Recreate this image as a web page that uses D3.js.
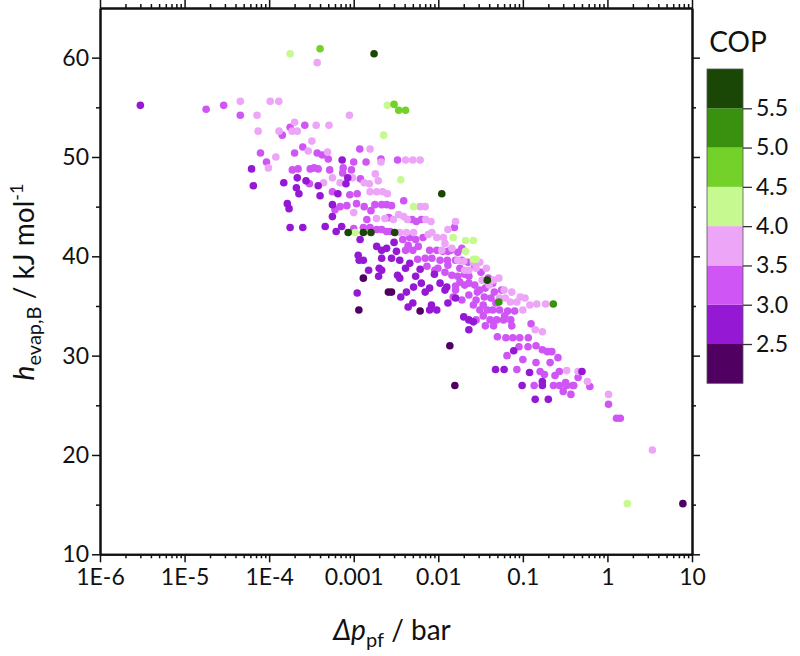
<!DOCTYPE html>
<html>
<head>
<meta charset="utf-8">
<script src="https://cdn.jsdelivr.net/npm/d3@7"></script>
<style>
body { margin: 0; background: #fff; }
svg text { font-family: Lato, "Open Sans", sans-serif; fill: #111; }
.axis path, .axis line { stroke: #111; }
</style>
</head>
<body>
<div id="chart"></div>
<script>
// COP bands and their colours (legend)
const copEdges = [2.0, 2.5, 3.0, 3.5, 4.0, 4.5, 5.0, 5.5, 6.0];
const copColors = ["#4f0060", "#9518d4", "#cf55f5", "#eda5f7", "#c6f98f", "#73d12a", "#3a9110", "#1b4706"];
const copTicks = [2.5, 3.0, 3.5, 4.0, 4.5, 5.0, 5.5];

const xTicks = [1e-6, 1e-5, 1e-4, 1e-3, 0.01, 0.1, 1, 10];
const xTickLabels = ["1E-6", "1E-5", "1E-4", "0.001", "0.01", "0.1", "1", "10"];
const yTicks = [10, 20, 30, 40, 50, 60];
const yMinorTicks = [15, 25, 35, 45, 55];

// points: [delta p_pf (bar), h_evap,B (kJ/mol)] grouped by COP band
const cop23 = [
  [1.15e-3, 34.6], [1.3e-3, 37.8], [2.57e-3, 36.4], [2.8e-3, 36.4], [6.1e-3, 34.5],
  [1.37e-2, 31.0], [1.57e-2, 27.0], [7.8, 15.1]
];
const cop28 = [
  [3.0e-6, 55.2], [6.2e-5, 48.8], [6.5e-5, 47.1], [1.49e-4, 47.4], [2.15e-4, 47.9],
  [2.73e-4, 47.6], [2.1e-4, 46.9], [2.25e-4, 46.3], [7.3e-4, 49.7], [8.5e-4, 47.9],
  [8.1e-4, 47.3], [3.8e-4, 47.1], [4.0e-4, 46.1], [6.5e-4, 46.3], [1.64e-4, 45.3],
  [1.72e-4, 44.8], [5.6e-4, 45.2], [5.6e-4, 44.0], [1.77e-4, 42.9], [2.5e-4, 42.9],
  [4.6e-4, 43.0], [6.2e-4, 42.5], [7.2e-4, 43.0], [1.19e-3, 41.7], [1.13e-3, 40.1],
  [1.3e-3, 39.6], [1.16e-3, 39.6], [1.1e-3, 36.3], [1.87e-3, 41.0], [2.14e-3, 40.6],
  [2.45e-3, 40.8], [3.2e-3, 40.5], [2.14e-3, 39.8], [2.8e-3, 39.8], [3.5e-3, 39.6],
  [2.0e-3, 38.8], [2.14e-3, 38.6], [1.97e-3, 38.0], [3.5e-3, 37.8], [3.6e-3, 35.9],
  [4.2e-3, 36.4], [5.1e-3, 36.9], [6.3e-3, 37.3], [7.9e-3, 36.8], [7.9e-3, 34.6],
  [9.6e-3, 34.6], [8.3e-3, 35.1], [1.05e-2, 37.3], [1.26e-2, 36.9], [4.6e-3, 39.3],
  [4.1e-3, 38.8], [5.4e-3, 38.0], [7.0e-3, 36.4], [6.1e-3, 38.7], [3.3e-3, 38.1],
  [1.3e-2, 35.3], [1.6e-2, 35.8], [2.0e-2, 33.9], [2.3e-2, 33.6], [7.8e-2, 30.5],
  [4.75e-2, 28.6], [6.0e-2, 28.6], [0.12, 28.3], [9.8e-2, 27.0], [0.14, 25.6],
  [0.2, 25.6], [0.17, 27.0], [0.17, 27.4], [0.5, 28.4], [2.3e-2, 32.6],
  [1.2e-2, 36.6], [4.4e-3, 34.9], [5.0e-3, 35.3], [2.6e-2, 33.4], [3.0e-3, 41.4],
  [1.5e-3, 38.6], [9.0e-3, 38.2]
];
const cop32 = [
  [1.8e-5, 54.8], [2.9e-5, 55.2], [4.56e-5, 54.2], [1.43e-4, 52.2], [1.77e-4, 53.0],
  [2.64e-4, 53.2], [7.9e-5, 50.4], [2.0e-4, 50.4], [3.7e-4, 50.4], [4.25e-4, 50.2],
  [5.0e-4, 49.8], [1.18e-3, 50.8], [2.1e-3, 49.8], [9.3e-5, 49.5], [1.88e-4, 48.7],
  [2.2e-4, 48.8], [3.06e-4, 48.8], [3.4e-4, 48.9], [3.8e-4, 48.8], [5.2e-4, 48.7],
  [7.5e-4, 48.9], [9.4e-4, 48.7], [1.0e-3, 49.5], [1.4e-3, 49.5], [7.4e-4, 48.4],
  [5.6e-4, 46.5], [9.0e-4, 46.2], [1.1e-3, 46.3], [3.3e-3, 49.7], [6.0e-4, 44.7],
  [6.9e-4, 45.0], [8.3e-4, 45.1], [1.08e-3, 45.3], [1.33e-3, 45.0], [1.78e-3, 45.2],
  [2.14e-3, 45.2], [2.45e-3, 45.2], [2.8e-3, 45.1], [1.43e-3, 43.7], [1.0e-3, 42.8],
  [1.3e-3, 42.9], [1.56e-3, 42.9], [1.87e-3, 42.7], [2.14e-3, 42.7], [2.45e-3, 42.5],
  [2.7e-3, 42.5], [4.9e-3, 43.7], [5.5e-3, 43.5], [6.3e-3, 43.7], [1.55e-2, 42.9],
  [3.8e-3, 41.7], [4.6e-3, 41.9], [5.4e-3, 41.7], [6.6e-3, 41.9], [4.1e-3, 40.6],
  [5.0e-3, 40.6], [5.8e-3, 41.0], [7.9e-3, 40.6], [9.6e-3, 40.6], [1.13e-2, 40.5],
  [1.3e-2, 40.5], [5.7e-3, 39.7], [7.0e-3, 39.8], [8.4e-3, 39.8], [1.05e-2, 39.6],
  [1.28e-2, 39.6], [1.6e-2, 39.6], [1.9e-2, 39.6], [2.25e-2, 39.4], [1.2e-2, 38.4],
  [1.45e-2, 38.1], [1.7e-2, 38.0], [2.05e-2, 38.2], [2.3e-2, 38.0], [1.6e-2, 37.0],
  [2.05e-2, 37.1], [2.7e-2, 37.1], [3.1e-2, 36.6], [3.6e-2, 36.8], [1.5e-2, 35.9],
  [2.8e-2, 35.6], [4.2e-2, 35.8], [2.6e-2, 35.1], [3.1e-2, 34.6], [3.4e-2, 35.1],
  [3.8e-2, 34.6], [4.4e-2, 34.6], [4.8e-2, 35.3], [6.6e-2, 34.5], [8.0e-2, 34.5],
  [2.8e-2, 33.6], [4.1e-2, 33.6], [4.9e-2, 33.6], [5.9e-2, 33.6], [7.2e-2, 33.6],
  [5.0e-2, 31.9], [6.3e-2, 31.8], [7.6e-2, 31.8], [9.2e-2, 31.8], [0.116, 31.8],
  [9.0e-2, 30.9], [0.115, 30.9], [0.143, 31.0], [0.17, 30.6], [0.195, 30.4],
  [0.22, 30.4], [0.143, 29.3], [0.21, 29.3], [8.5e-2, 28.6], [0.16, 28.4],
  [0.18, 28.1], [0.24, 28.0], [0.27, 28.4], [0.32, 27.3], [0.39, 27.0],
  [0.136, 27.0], [0.23, 27.0], [0.27, 27.0], [0.33, 27.0], [0.4, 27.0],
  [0.37, 26.1], [0.62, 26.9], [1.03, 25.1], [1.28, 23.7], [1.42, 23.7],
  [7.35e-3, 39.0], [9.1e-3, 38.6], [1.3e-2, 39.1], [1.8e-2, 38.8], [2.7e-2, 39.0],
  [3.2e-2, 38.4], [3.9e-2, 37.8], [4.4e-2, 37.3], [1.8e-2, 37.4], [2.3e-2, 37.3],
  [2.9e-2, 36.4], [3.5e-2, 35.9], [2.3e-2, 36.1], [1.9e-2, 35.6], [4.6e-2, 36.4],
  [5.6e-2, 36.6], [5.3e-2, 34.6], [6.1e-2, 34.0], [3.4e-2, 34.0], [4.5e-2, 33.0],
  [3.6e-2, 33.0], [7.4e-2, 33.0], [1.4e-2, 40.6], [1.7e-2, 40.4], [1.9e-2, 40.8],
  [9.9e-3, 38.8], [1.6e-2, 36.6], [4.4e-3, 41.1], [2.5e-4, 51.0], [3.0e-4, 47.3],
  [1.2e-3, 47.8], [1.6e-3, 44.6], [3.9e-3, 45.6], [2.6e-3, 43.9], [6.5e-2, 30.0],
  [0.1, 29.6], [0.26, 29.8], [0.3, 26.4], [0.45, 27.8], [0.125, 33.2]
];
const cop37 = [
  [4.56e-5, 55.6], [7.2e-5, 54.2], [1.03e-4, 55.6], [1.3e-4, 55.6], [7.4e-5, 52.6],
  [1.31e-4, 52.6], [2.0e-4, 53.5], [1.87e-4, 52.6], [2.15e-4, 52.6], [3.6e-4, 53.2],
  [5.1e-4, 53.2], [8.9e-4, 54.2], [3.2e-4, 51.6], [3.7e-4, 59.5], [4.9e-4, 50.5],
  [1.56e-3, 50.8], [2.1e-3, 49.5], [9.8e-5, 48.9], [5.6e-4, 47.9], [9.7e-4, 47.9],
  [6.9e-4, 47.4], [4.4e-4, 47.4], [1.33e-3, 47.4], [1.53e-3, 47.3], [1.8e-3, 48.3],
  [1.95e-3, 47.6], [1.56e-3, 46.5], [1.87e-3, 46.5], [2.2e-3, 46.5], [2.5e-3, 46.3],
  [4.1e-3, 49.7], [5.0e-3, 49.7], [6.1e-3, 49.7], [6.1e-3, 45.0], [7.0e-3, 45.0],
  [1.86e-3, 43.8], [2.34e-3, 43.8], [2.94e-3, 43.7], [3.4e-3, 44.2], [3.9e-3, 44.0],
  [4.3e-3, 43.7], [7.1e-3, 43.7], [8.2e-3, 43.5], [3.5e-3, 42.4], [4.2e-3, 42.4],
  [5.1e-3, 42.4], [7.6e-3, 42.2], [9.6e-3, 41.9], [1.15e-2, 41.9], [1.1e-2, 40.6],
  [1.7e-2, 39.6], [2.0e-2, 39.5], [2.6e-2, 39.4], [2.05e-2, 38.6], [2.3e-2, 38.6],
  [2.8e-2, 38.8], [3.3e-2, 37.6], [4.0e-2, 37.1], [5.2e-2, 37.8], [5.3e-2, 35.8],
  [6.2e-2, 35.8], [7.1e-2, 35.4], [8.5e-2, 35.4], [0.146, 35.2], [0.186, 35.2],
  [0.14, 32.6], [0.17, 32.4], [0.33, 28.5], [0.45, 28.4], [0.58, 27.4],
  [1.03, 26.1], [3.4, 20.5], [8.4e-3, 42.4], [1.2e-2, 41.3], [1.45e-2, 40.8],
  [3.1e-2, 39.4], [3.7e-2, 38.8], [4.5e-2, 37.6], [6.0e-2, 36.6], [7.4e-2, 36.4],
  [9.3e-2, 35.9], [0.106, 35.8], [0.1, 34.6], [0.121, 35.1], [1.6e-2, 43.5],
  [1.3e-2, 42.7], [2.9e-4, 50.6], [1.2e-4, 50.0], [1.0e-3, 44.4]
];
const cop42 = [
  [1.77e-4, 60.4], [2.5e-3, 55.2], [2.26e-3, 52.2], [3.6e-3, 47.7], [5.1e-3, 45.0],
  [1.04e-3, 42.4], [1.5e-2, 41.9], [2.1e-2, 41.6], [2.6e-2, 41.6], [2.1e-2, 40.5],
  [2.6e-2, 39.7], [2.8e-2, 39.7], [1.72, 15.1]
];
const cop47 = [
  [4.0e-4, 60.9], [3.0e-3, 55.3], [3.4e-3, 54.7], [4.1e-3, 54.7]
];
const cop52 = [
  [5.2e-2, 35.4], [0.229, 35.2]
];
const cop57 = [
  [1.74e-3, 60.4], [1.1e-2, 46.3], [8.6e-4, 42.4], [1.3e-3, 42.4], [1.6e-3, 42.4],
  [3.05e-3, 42.4], [3.8e-2, 37.6]
];

const series = [
  { cop: 3.2, pts: cop32 },
  { cop: 3.7, pts: cop37 },
  { cop: 2.8, pts: cop28 },
  { cop: 2.3, pts: cop23 },
  { cop: 4.2, pts: cop42 },
  { cop: 4.7, pts: cop47 },
  { cop: 5.2, pts: cop52 },
  { cop: 5.7, pts: cop57 }
];

const W = 800, H = 656;
const plot = { left: 100, right: 692, top: 8, bottom: 554.3 };

const svg = d3.select("#chart")
    .append("svg")
    .attr("width", W)
    .attr("height", H);

const x = d3.scaleLog().domain([1e-6, 10]).range([plot.left, plot.right]);
const y = d3.scaleLinear().domain([10, 65]).range([plot.bottom, plot.top]);
const color = d3.scaleThreshold().domain(copEdges.slice(1, -1)).range(copColors);

// minor ticks for the log axis
const xMinor = [];
for (let k = -6; k < 1; k++) {
    for (let m = 2; m <= 9; m++) xMinor.push(m * Math.pow(10, k));
}

// points
const pts = series.flatMap(s => s.pts.map(p => ({ dp: p[0], h: p[1], cop: s.cop })));
svg.append("g")
    .selectAll("circle")
    .data(pts)
    .enter()
    .append("circle")
    .attr("cx", d => x(d.dp))
    .attr("cy", d => y(d.h))
    .attr("r", 3.8)
    .attr("fill", d => color(d.cop));

// axes
function styleAxis(g, sw) {
    g.attr("class", "axis");
    g.select(".domain").attr("stroke-width", 2);
    g.selectAll(".tick line").attr("stroke-width", sw);
}

const fmt = d => xTickLabels[xTicks.indexOf(d)];

svg.append("g")
    .attr("transform", `translate(0,${plot.bottom})`)
    .call(d3.axisBottom(x).tickValues(xMinor).tickSize(4).tickFormat("").tickSizeOuter(0))
    .call(g => styleAxis(g, 1.5));
svg.append("g")
    .attr("transform", `translate(0,${plot.bottom})`)
    .call(d3.axisBottom(x).tickValues(xTicks).tickSize(8).tickPadding(6).tickFormat(fmt).tickSizeOuter(0))
    .call(g => styleAxis(g, 1.5))
    .call(g => g.selectAll("text").style("font-size", "23px"));

svg.append("g")
    .attr("transform", `translate(0,${plot.top})`)
    .call(d3.axisTop(x).tickValues(xMinor).tickSize(4).tickFormat("").tickSizeOuter(0))
    .call(g => styleAxis(g, 1.5));
svg.append("g")
    .attr("transform", `translate(0,${plot.top})`)
    .call(d3.axisTop(x).tickValues(xTicks).tickSize(8).tickFormat("").tickSizeOuter(0))
    .call(g => styleAxis(g, 1.5));

svg.append("g")
    .attr("transform", `translate(${plot.left},0)`)
    .call(d3.axisLeft(y).tickValues(yMinorTicks).tickSize(4).tickFormat("").tickSizeOuter(0))
    .call(g => styleAxis(g, 1.5));
svg.append("g")
    .attr("transform", `translate(${plot.left},0)`)
    .call(d3.axisLeft(y).tickValues(yTicks).tickSize(8).tickPadding(3).tickSizeOuter(0))
    .call(g => styleAxis(g, 1.5))
    .call(g => g.selectAll("text").style("font-size", "23px"));

svg.append("g")
    .attr("transform", `translate(${plot.right},0)`)
    .call(d3.axisRight(y).tickValues(yMinorTicks).tickSize(4).tickFormat("").tickSizeOuter(0))
    .call(g => styleAxis(g, 1.5));
svg.append("g")
    .attr("transform", `translate(${plot.right},0)`)
    .call(d3.axisRight(y).tickValues(yTicks).tickSize(8).tickFormat("").tickSizeOuter(0))
    .call(g => styleAxis(g, 1.5));

// axis titles
const xt = svg.append("text")
    .attr("x", 392)
    .attr("y", 640)
    .attr("text-anchor", "middle")
    .style("font-size", "28px");
xt.append("tspan").style("font-style", "italic").text("\u0394p");
xt.append("tspan").attr("dy", 7).style("font-size", "20px").text("pf");
xt.append("tspan").attr("dy", -7).text(" / bar");

const yt = svg.append("text")
    .attr("transform", "translate(34,282) rotate(-90)")
    .attr("text-anchor", "middle")
    .style("font-size", "28px");
yt.append("tspan").style("font-style", "italic").text("h");
yt.append("tspan").attr("dy", 7).style("font-size", "20px").text("evap,B");
yt.append("tspan").attr("dy", -7).text(" / kJ mol");
yt.append("tspan").attr("dy", -11).style("font-size", "18px").text("-1");

// colour bar
const cb = { left: 707, width: 36 };
const cy = d3.scaleLinear().domain([2, 6]).range([383.3, 69]);

svg.append("g")
    .selectAll("rect")
    .data(copColors)
    .enter()
    .append("rect")
    .attr("x", cb.left)
    .attr("y", (d, i) => cy(copEdges[i + 1]))
    .attr("width", cb.width)
    .attr("height", (d, i) => cy(copEdges[i]) - cy(copEdges[i + 1]))
    .attr("fill", d => d);

svg.append("rect")
    .attr("x", cb.left)
    .attr("y", cy(6))
    .attr("width", cb.width)
    .attr("height", cy(2) - cy(6))
    .attr("fill", "none")
    .attr("stroke", "#555")
    .attr("stroke-width", 0.8);

svg.append("g")
    .attr("transform", `translate(${cb.left + cb.width},0)`)
    .call(d3.axisRight(cy).tickValues(copTicks).tickSize(9).tickPadding(4).tickFormat(d3.format(".1f")))
    .call(g => g.select(".domain").remove())
    .call(g => g.selectAll(".tick line").attr("stroke", "#333").attr("stroke-width", 1.3))
    .call(g => g.selectAll("text").style("font-size", "23px"));

svg.append("text")
    .attr("x", 738)
    .attr("y", 52)
    .attr("text-anchor", "middle")
    .style("font-size", "28px")
    .text("COP");
</script>
</body>
</html>
